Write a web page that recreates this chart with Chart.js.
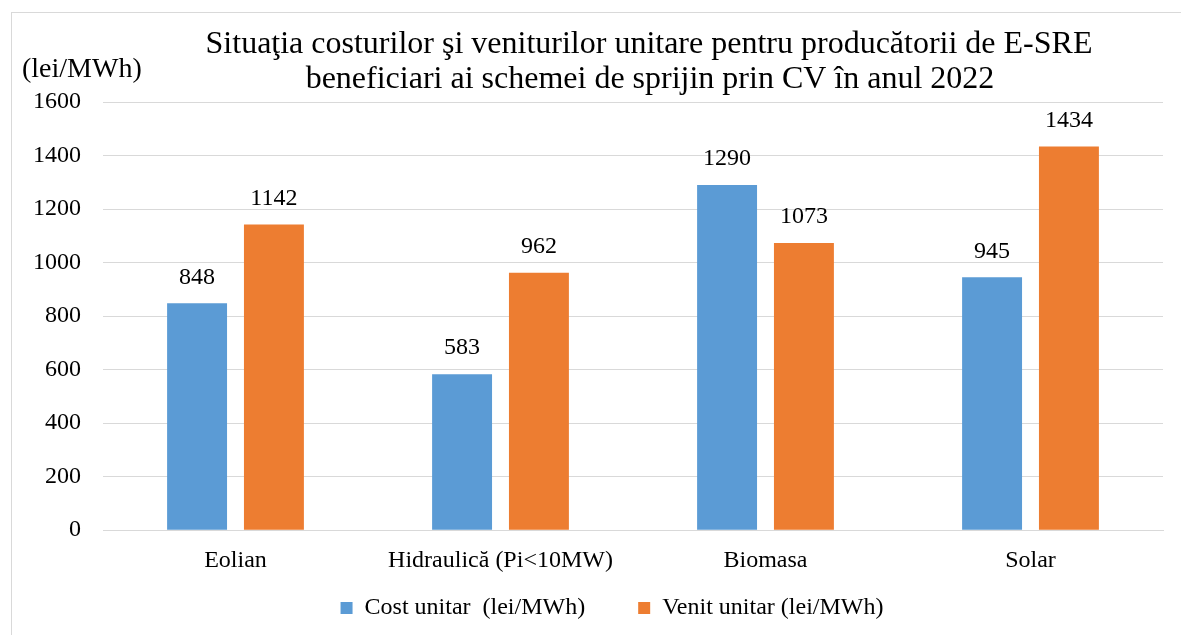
<!DOCTYPE html>
<html>
<head>
<meta charset="utf-8">
<script src="https://cdn.jsdelivr.net/npm/chart.js@4"></script>
<style>
  body { margin: 0; background: #fff; overflow: hidden; }
  #wrap { position: relative; width: 1181px; height: 635px; }
  #frame { position: absolute; left: 11px; top: 12px; width: 1200px; height: 700px;
           border: 1px solid #d9d9d9; pointer-events: none; }
  canvas { position: absolute; left: 0; top: 0; }
</style>
</head>
<body>
<div id="wrap">
  <canvas id="chart" width="1181" height="635"></canvas>
  <div id="frame"></div>
</div>
<script>
const categories = ["Eolian", "Hidraulică (Pi<10MW)", "Biomasa", "Solar"];
const costValues = [848, 583, 1290, 945];
const venitValues = [1142, 962, 1073, 1434];
const seriesNames = ["Cost unitar  (lei/MWh)", "Venit unitar (lei/MWh)"];
const titleLines = [
    "Situaţia costurilor şi veniturilor unitare pentru producătorii de E-SRE",
    "beneficiari ai schemei de sprijin prin CV în anul 2022"
];
const unitLabel = "(lei/MWh)";

const serif = "'Liberation Serif', 'Times New Roman', serif";

// title, unit label and value labels drawn on the canvas
const extras = {
    id: "extras",
    afterLayout(chart) {
        // legend sits a bit right of centre in the original
        chart.legend.left += 25;
        chart.legend.right += 25;
    },
    afterDatasetsDraw(chart) {
        const ctx = chart.ctx;
        ctx.save();
        ctx.fillStyle = "#000";
        ctx.textAlign = "center";
        ctx.textBaseline = "bottom";
        ctx.font = "24px " + serif;
        chart.data.datasets.forEach((ds, i) => {
            chart.getDatasetMeta(i).data.forEach((bar, j) => {
                ctx.fillText(ds.data[j], bar.x, bar.y - 14);
            });
        });

        ctx.font = "32px " + serif;
        ctx.textBaseline = "middle";
        ctx.fillText(titleLines[0], 649, 45);
        ctx.fillText(titleLines[1], 650, 80);

        ctx.font = "28px " + serif;
        ctx.textAlign = "left";
        ctx.fillText(unitLabel, 22, 70);
        ctx.restore();
    }
};

new Chart(document.getElementById("chart"), {
    type: "bar",
    data: {
        labels: categories,
        datasets: [{
            label: seriesNames[0],
            data: costValues,
            backgroundColor: "#5b9bd5"
        }, {
            label: seriesNames[1],
            data: venitValues,
            backgroundColor: "#ed7d31"
        }]
    },
    options: {
        responsive: false,
        animation: false,
        layout: { padding: { top: 102, left: 11, right: 18, bottom: 5 } },
        categoryPercentage: 0.58,
        barPercentage: 0.78,
        scales: {
            x: {
                grid: { display: false, drawTicks: false },
                border: { color: "#d9d9d9" },
                ticks: { color: "#000", font: { family: serif, size: 24 }, padding: 16 }
            },
            y: {
                min: 0,
                max: 1600,
                grid: { color: "#d9d9d9", drawTicks: false },
                border: { display: false },
                ticks: {
                    stepSize: 200,
                    color: "#000",
                    font: { family: serif, size: 24 },
                    padding: 22,
                    callback: (v) => String(v)
                }
            }
        },
        plugins: {
            legend: {
                position: "bottom",
                labels: {
                    color: "#000",
                    font: { family: serif, size: 24 },
                    boxWidth: 12,
                    boxHeight: 12,
                    padding: 5,
                    // extra room between the two legend entries
                    generateLabels: (chart) => {
                        const items = Chart.defaults.plugins.legend.labels.generateLabels(chart);
                        items[0].text += "        ";
                        return items;
                    }
                }
            },
            tooltip: { enabled: false }
        }
    },
    plugins: [extras]
});
</script>
</body>
</html>
